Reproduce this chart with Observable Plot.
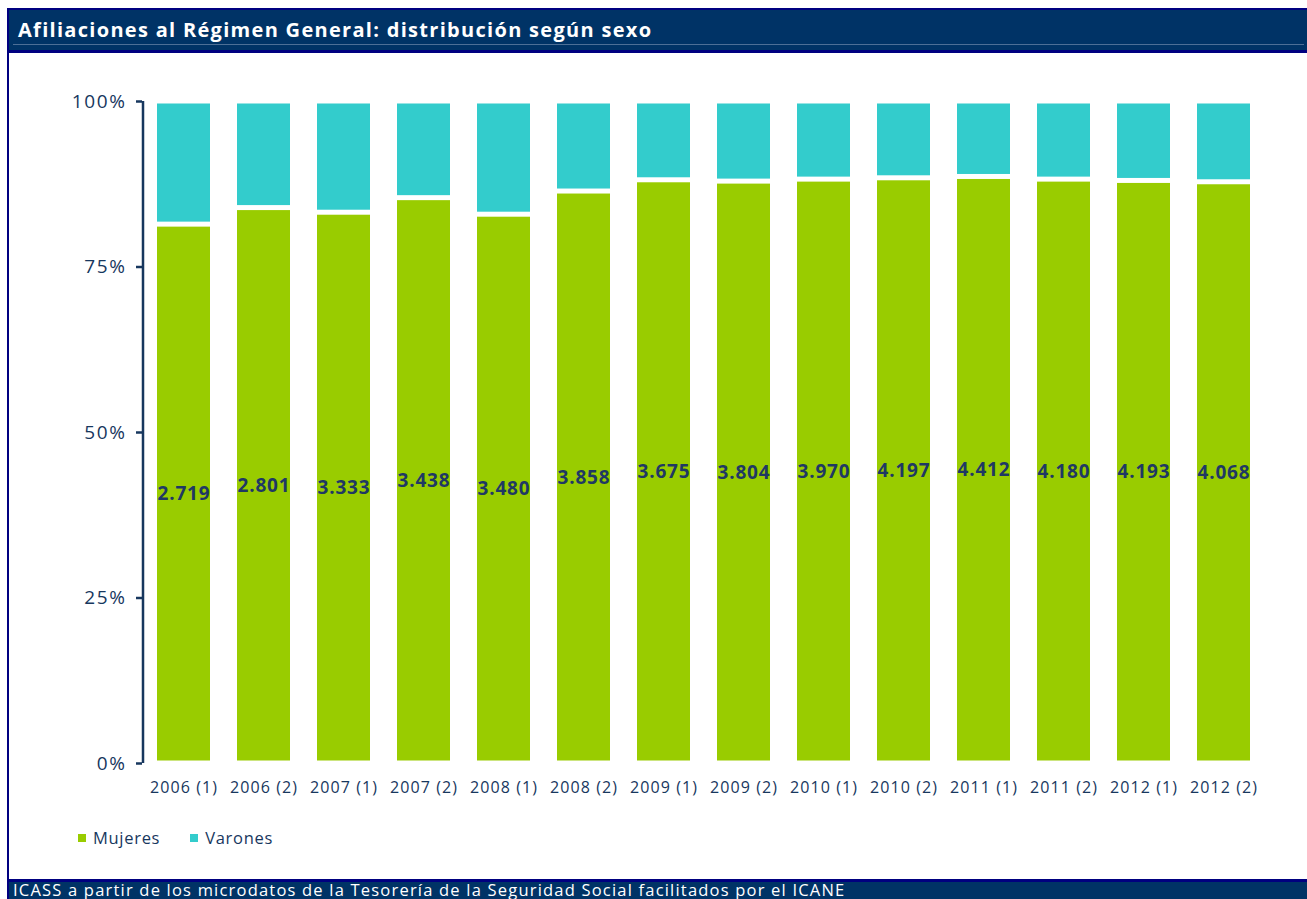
<!DOCTYPE html>
<html>
<head>
<meta charset="utf-8">
<script src="https://cdn.jsdelivr.net/npm/d3@7"></script>
<script src="https://cdn.jsdelivr.net/npm/@observablehq/plot@0.6"></script>
<style>
  html, body { margin: 0; padding: 0; background: #fff; }
  body { width: 1307px; height: 899px; position: relative; overflow: hidden; font-family: "Open Sans", Lato, sans-serif; }
  #frame { position: absolute; left: 7px; top: 8px; width: 1320px; height: 900px; border-left: 2px solid #000080; box-sizing: border-box; }
  #titlebar { position: absolute; left: 7px; top: 8px; width: 1320px; height: 45px; background: #003366; border-top: 2px solid #000080; border-bottom: 3px solid #000080; border-left: 2px solid #000080; box-sizing: border-box; }
  #titlebar .t { position: absolute; left: 9px; top: 6px; color: #fff; font-weight: bold; font-size: 20px; letter-spacing: 1.3px; white-space: nowrap; }
  #titlebar .u { position: absolute; left: 4px; top: 34px; width: 1291px; height: 1px; background: #4d6f96; }
  #chart { position: absolute; left: 0; top: 53px; }
  #chart svg g[aria-label="x-axis tick label"] text { letter-spacing: 1.1px; }
  #chart svg g[aria-label="y-axis tick label"] text { letter-spacing: 1.6px; }
  #chart svg g[aria-label="text"] text { letter-spacing: 0.8px; }
  #legend { position: absolute; left: 78px; top: 826px; font-size: 16.5px; letter-spacing: 0.7px; color: #17375E; white-space: nowrap; }
  #legend span.sw { display: inline-block; width: 8px; height: 8px; margin-right: 7px; vertical-align: 2px; }
  #legend span.it { margin-right: 30px; }
  #caption { position: absolute; left: 7px; top: 879px; width: 1320px; height: 30px; background: #003366; border-top: 3px solid #000080; border-left: 2px solid #000080; box-sizing: border-box; color: #fff; font-size: 16.5px; letter-spacing: 1.2px; }
  #caption .c { position: absolute; left: 4px; top: -1px; line-height: 17px; white-space: nowrap; }
</style>
</head>
<body>
<div id="frame"></div>
<div id="titlebar"><div class="t">Afiliaciones al Régimen General: distribución según sexo</div><div class="u"></div></div>
<div id="chart"></div>
<div id="legend"><span class="it"><span class="sw" style="background:#99CC00"></span>Mujeres</span><span class="it"><span class="sw" style="background:#33CCCC"></span>Varones</span></div>
<div id="caption"><div class="c">ICASS a partir de los microdatos de la Tesorería de la Seguridad Social facilitados por el ICANE</div></div>
<script>
const categories = ["2006 (1)", "2006 (2)", "2007 (1)", "2007 (2)", "2008 (1)", "2008 (2)", "2009 (1)", "2009 (2)", "2010 (1)", "2010 (2)", "2011 (1)", "2011 (2)", "2012 (1)", "2012 (2)"];
const mujeresPct = [81.4, 83.9, 83.2, 85.4, 82.9, 86.4, 88.1, 87.9, 88.2, 88.4, 88.6, 88.2, 88.0, 87.8];
const varonesPct = mujeresPct.map(v => 100 - v);
const mujeresLabels = ["2.719", "2.801", "3.333", "3.438", "3.480", "3.858", "3.675", "3.804", "3.970", "4.197", "4.412", "4.180", "4.193", "4.068"];
const series = ["Mujeres", "Varones"];
const colors = ["#99CC00", "#33CCCC"];
const yTicks = [0, 25, 50, 75, 100];

const rows = [];
categories.forEach((c, i) => {
  rows.push({cat: c, sexo: "Mujeres", value: mujeresPct[i]});
  rows.push({cat: c, sexo: "Varones", value: varonesPct[i]});
});
const labelRows = categories.map((c, i) => ({cat: c, mid: mujeresPct[i] / 2, label: mujeresLabels[i]}));

const ink = "#17375E";
const chart = Plot.plot({
  width: 1307,
  height: 747,
  marginTop: 48,
  marginBottom: 37,
  marginLeft: 142,
  marginRight: 42,
  style: {fontFamily: "'Open Sans', Lato, sans-serif", color: ink, background: "transparent"},
  x: {domain: categories, paddingInner: 0.34, paddingOuter: 0.17, label: null},
  y: {domain: [0, 100], label: null},
  color: {domain: series, range: colors},
  marks: [
    Plot.barY(rows, {x: "cat", y: "value", fill: "sexo", z: "sexo", order: series, insetTop: 2.5, insetBottom: 2.5}),
    Plot.text(labelRows, {x: "cat", y: "mid", text: "label", fill: "#1F3864", fontWeight: "bold", fontSize: 19}),
    Plot.axisX({tickSize: 0, tickPadding: 18, fontSize: 16, label: null}),
    Plot.axisY({ticks: yTicks, tickFormat: d => d + "%", tickSize: 6, tickPadding: 10, fontSize: 19, strokeWidth: 2.5, label: null}),
    Plot.ruleX([0], {x: () => categories[0], dx: -41, y1: 0, y2: 100, stroke: ink, strokeWidth: 2.5})
  ]
});
document.getElementById("chart").appendChild(chart);
</script>
</body>
</html>
